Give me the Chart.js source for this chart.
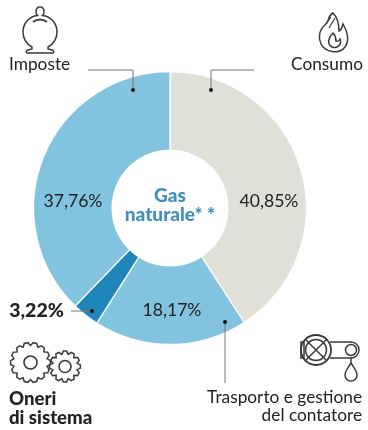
<!DOCTYPE html>
<html>
<head>
<meta charset="utf-8">
<script src="https://cdn.jsdelivr.net/npm/chart.js@4"></script>
<style>
html, body { margin: 0; padding: 0; background: #fff; }
#wrap { position: relative; width: 368px; height: 430px; overflow: hidden; }
#icons { position: absolute; left: 0; top: 0; pointer-events: none; }
</style>
</head>
<body>
<div id="wrap">
  <canvas id="myChart" width="368" height="430"></canvas>
  <svg id="icons" width="368" height="430" fill="none" stroke="#3a3a3a" stroke-width="1.5"></svg>
</div>
<script>
// clockwise from the top
const categories = ['Consumo', 'Trasporto e gestione del contatore', 'Oneri di sistema', 'Imposte'];
const shares = [40.85, 18.17, 3.22, 37.76];
const shareLabels = ['40,85%', '18,17%', '3,22%', '37,76%'];
const sliceColors = ['#e0dfd8', '#82c3df', '#1e86bb', '#82c3df'];

const textColor = '#222222';
const lightFont = '400 17.3px Lato';
const boldFont = '900 18.6px Lato';

//texts around the ring
const notes = [
    { text: 'Imposte', x: 9, y: 70, font: lightFont },
    { text: 'Consumo', x: 363, y: 70, font: lightFont, align: 'right' },
    { text: 'Trasporto e gestione', x: 362, y: 403, font: lightFont, align: 'right' },
    { text: 'del contatore', x: 362, y: 421, font: lightFont, align: 'right' },
    { text: 'Oneri', x: 9, y: 405, font: boldFont },
    { text: 'di sistema', x: 9, y: 424, font: boldFont }
];
const valueSpots = [[269, 201], [172, 310], [36.5, 311], [73, 201]];

//leader lines, each ends on a dot inside its slice
const leaders = [
    [[88, 70], [133, 70], [133, 90]],
    [[254, 70], [211, 70], [211, 90]],
    [[225, 383], [225, 322]],
    [[71, 311], [92, 311]]
];

const ringNotes = {
    id: 'ringNotes',
    afterDraw(chart) {
        const c = chart.ctx;
        c.save();
        c.textBaseline = 'alphabetic';
        notes.forEach(n => {
            c.font = n.font;
            c.fillStyle = textColor;
            c.textAlign = n.align || 'left';
            c.fillText(n.text, n.x, n.y);
        });

        c.textAlign = 'center';
        c.textBaseline = 'middle';
        shareLabels.forEach((label, i) => {
            c.font = i === 2 ? '900 19.5px Lato' : '400 17.6px Lato';
            c.fillStyle = textColor;
            c.fillText(label, valueSpots[i][0], valueSpots[i][1]);
        });

        c.fillStyle = '#3f8fbc';
        c.font = '900 19px Lato';
        const arc = chart.getDatasetMeta(0).data[0];
        c.fillText('Gas', arc.x, arc.y - 12);
        c.fillText('naturale* *', arc.x, arc.y + 7);

        leaders.forEach(line => {
            c.beginPath();
            line.forEach((p, i) => i ? c.lineTo(p[0], p[1]) : c.moveTo(p[0], p[1]));
            c.strokeStyle = '#777';
            c.lineWidth = 1;
            c.stroke();
            const end = line[line.length - 1];
            c.beginPath();
            c.arc(end[0], end[1], 2, 0, Math.PI * 2);
            c.fillStyle = '#111';
            c.fill();
        });
        c.restore();
    }
};

new Chart(document.getElementById('myChart'), {
    type: 'doughnut',
    data: {
        labels: categories,
        datasets: [{
            data: shares,
            backgroundColor: sliceColors,
            borderColor: '#ffffff',
            borderWidth: 1.2
        }]
    },
    options: {
        responsive: false,
        animation: false,
        cutout: '42.5%',
        layout: { padding: { left: 33, right: 61, top: 70, bottom: 84 } },
        plugins: { legend: { display: false }, tooltip: { enabled: false } }
    },
    plugins: [ringNotes]
});

//gear outline for the icon
function gearPath(cx, cy, outer, inner, teeth) {
    let d = '';
    const step = Math.PI * 2 / teeth;
    for (let i = 0; i < teeth; i++) {
        const a = i * step;
        const pts = [[inner, a - step * 0.5], [outer, a - step * 0.2], [outer, a + step * 0.2], [inner, a + step * 0.5]];
        pts.forEach((p, j) => {
            const x = (cx + p[0] * Math.cos(p[1])).toFixed(1);
            const y = (cy + p[0] * Math.sin(p[1])).toFixed(1);
            d += (i === 0 && j === 0 ? 'M' : 'L') + x + ' ' + y + ' ';
        });
    }
    return d + 'Z';
}

document.getElementById('icons').innerHTML = `
  <path d="M36 12 Q36 7 40 7 Q44 7 44 12 Q44 14 42.5 15.5 C50 16 57 23 57 32 C57 39 53 44 48 47 L48 49 L52 50 Q55 51 53 53 L27 53 Q25 51 28 50 L32 49 L32 47 C27 44 23 39 23 32 C23 23 30 16 37.5 15.5 Q36 14 36 12 Z"/>
  <path d="M33 22 Q40 17 47 22" stroke-width="2"/>
  <path d="M333 13 C327 16 330 21 325 25 C319 30 318 38 321 44 C325 52 339 55 345 47 C350 40 347 31 343 24 C342 28 341 30 339 31 C339 25 337 17 333 13 Z"/>
  <path d="M333 33 C328 38 327 44 332 47 C338 49 342 44 340 39 C339 41 338 42 336 41 C336 38 335 35 333 33 Z"/>
  <path d="M326 24 L331 17 M329 28 L335 18" stroke-width="1.2"/>
  <path d="${gearPath(30.5, 362.5, 20, 17, 14)}"/>
  <circle cx="30.5" cy="362.5" r="6.5" stroke-width="1.6"/>
  <path d="${gearPath(65, 366.5, 15.5, 12.5, 12)}"/>
  <circle cx="65" cy="366.5" r="6" stroke-width="1.6"/>
  <path d="M301 342 H304 V358 H301 Z"/>
  <path d="M330 342 H351 A8 8 0 0 1 351 358 H330"/>
  <circle cx="316" cy="350" r="15" stroke-width="1.8"/>
  <circle cx="316" cy="350" r="10.5"/>
  <path d="M305 339 L327 361 M327 339 L305 361"/>
  <circle cx="351" cy="350" r="5.5"/>
  <path d="M351 358 V363 M351 363 C348 368 345 371 345 375 A6 6 0 0 0 357 375 C357 371 354 368 351 363 Z"/>
`;
</script>
</body>
</html>
